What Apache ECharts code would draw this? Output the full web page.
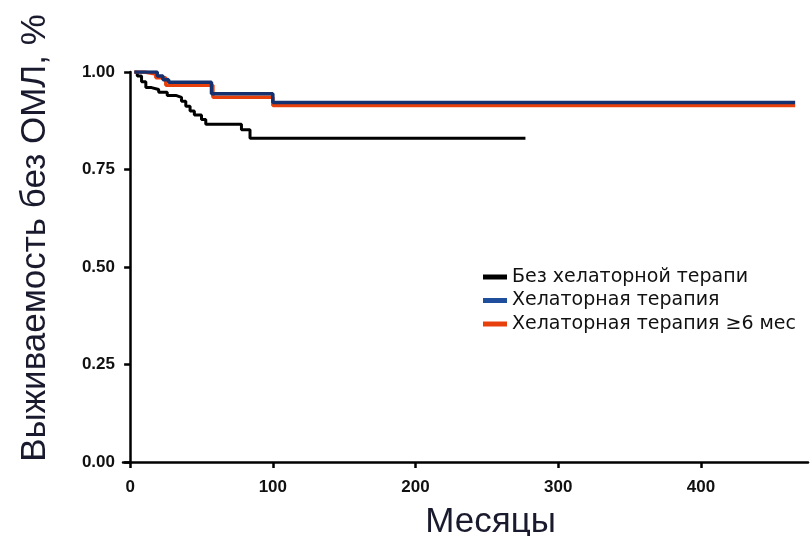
<!DOCTYPE html>
<html><head><meta charset="utf-8">
<script src="https://cdn.jsdelivr.net/npm/echarts@6/dist/echarts.min.js"></script>
<style>html,body{margin:0;padding:0;background:#fff}#c{width:810px;height:536px}</style>
</head><body><div id="c"></div>
<script>
const seriesNames = ['Без хелаторной терапи', 'Хелаторная терапия', 'Хелаторная терапия ≥6 мес'];
const xTicks = [0, 100, 200, 300, 400];
const yTicks = [0, 0.25, 0.5, 0.75, 1];
// Kaplan-Meier step points [month, survival]
const noChelation = [[3,1.0],[5,0.99],[8,0.975],[11,0.96],[15,0.955],[20,0.948],[26,0.94],[32,0.935],[36,0.925],[39,0.912],[42,0.9],[45,0.89],[50,0.878],[53,0.866],[78,0.852],[84,0.83],[277,0.83]];
const chelation = [[3,1.0],[19,0.99],[23,0.98],[27,0.974],[57,0.944],[100,0.922],[466,0.922]];
const chelation6 = [[3,1.0],[10,0.995],[18,0.985],[25,0.966],[58,0.935],[100,0.914],[466,0.914]];

const chart = echarts.init(document.getElementById('c'));
chart.setOption({
  animation: false,
  grid: {left: 123, right: 2, top: 72, bottom: 74, outerBoundsMode: 'none', containLabel: false},
  legend: {
    orient: 'vertical', left: 478, top: 262, itemGap: 3.5,
    itemWidth: 24, itemHeight: 5, icon: 'rect',
    textStyle: {fontFamily: 'DejaVu Sans', fontSize: 19, lineHeight: 20, color: '#111'},
    data: seriesNames
  },
  xAxis: {
    type: 'value', min: -5, max: 475,
    name: 'Месяцы', nameLocation: 'middle', nameGap: 43,
    nameTextStyle: {fontFamily: 'Liberation Sans', fontSize: 35, color: '#1a1a2e', padding: [0, 0, 0, 50]},
    axisLine: {show: true, lineStyle: {color: '#000', width: 2.5}},
    axisTick: {show: true, length: 6, lineStyle: {color: '#000', width: 2.5}, customValues: xTicks},
    axisLabel: {customValues: xTicks, margin: 17, fontFamily: 'Liberation Sans', fontWeight: 'bold', fontSize: 17, color: '#111'},
    splitLine: {show: false}
  },
  yAxis: {
    type: 'value', min: 0, max: 1, interval: 0.25,
    name: 'Выживаемость без ОМЛ, %', nameLocation: 'middle', nameGap: 70, nameRotate: 90,
    nameTextStyle: {fontFamily: 'Liberation Sans', fontSize: 35, color: '#1a1a2e', padding: [0, 0, 0, 58]},
    axisLine: {show: true, lineStyle: {color: '#000', width: 2.5}},
    axisTick: {show: true, length: 6, lineStyle: {color: '#000', width: 2.5}},
    axisLabel: {margin: 8, fontFamily: 'Liberation Sans', fontWeight: 'bold', fontSize: 17, color: '#111', formatter: v => v.toFixed(2)},
    splitLine: {show: false}
  },
  series: [
    {name: seriesNames[0], type: 'line', step: 'end', symbol: 'none', data: noChelation, lineStyle: {color: '#000', width: 3}, itemStyle: {color: '#000'}},
    {name: seriesNames[2], type: 'line', step: 'end', symbol: 'none', data: chelation6, lineStyle: {color: '#e8400c', width: 3.5}, itemStyle: {color: '#e8400c'}},
    {name: seriesNames[1], type: 'line', step: 'end', symbol: 'none', data: chelation, lineStyle: {color: '#15306e', width: 3.5}, itemStyle: {color: '#1f4e9c'}}
  ]
});
</script></body></html>
